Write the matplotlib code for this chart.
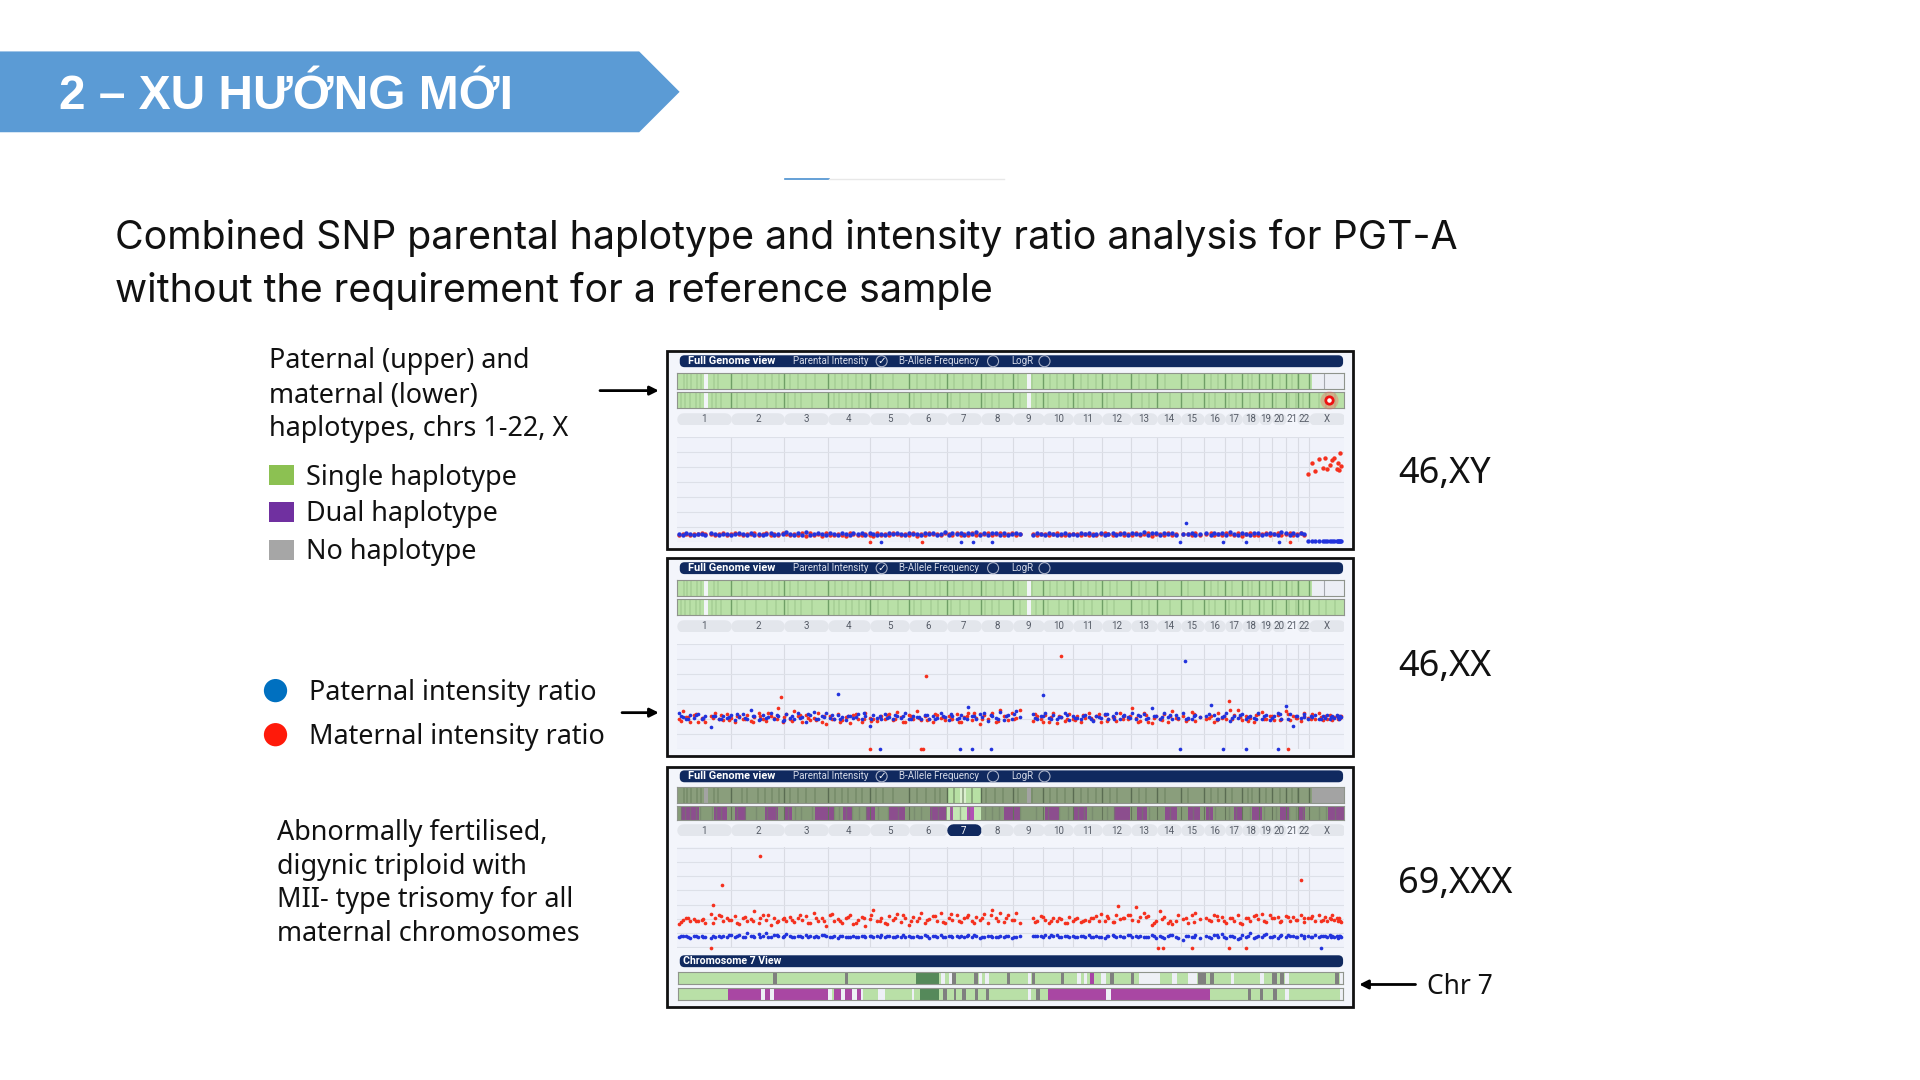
import matplotlib
matplotlib.use("Agg")
import matplotlib.pyplot as plt
from matplotlib.patches import Polygon, Rectangle, FancyBboxPatch, Circle

CHR_EDGES = [0,118,233,327,419,504,586,660,729,796,861,924,986,1042,1094,1144,1191,1228,1264,1293,1322,1350,1373,1450]
CHR_NAMES = ["1","2","3","4","5","6","7","8","9","10","11","12","13","14","15","16","17","18","19","20","21","22","X"]

# stripes inside the haplotype bars
STRIPES_UP = [14,22,31,44,52,79,88,140,151,176,190,207,221,246,262,281,299,343,358,371,388,401,431,447,470,521,540,560,572,601,622,641,672,690,707,741,772,811,825,842,878,893,909,940,955,1003,1019,1060,1110,1160,1175,1205,1240,1250,1280,1310,1335,1350]
STRIPES_LOW = [9,18,27,40,50,75,84,96,130,147,171,196,214,240,255,270,292,340,352,366,380,395,410,436,458,480,515,530,551,566,596,615,635,668,684,700,745,780,805,830,850,871,885,901,935,950,1010,1025,1070,1120,1155,1168,1200,1215,1245,1275,1301,1330,1345,1360,1395,1410,1430]
# purple blocks of the triploid lower bar
TRIP_PURPLE = [(8,48),(80,108),(125,150),(190,220),(235,250),(300,340),(360,380),(410,430),(460,495),(550,585),(710,745),(800,830),(860,890),(950,985),(1000,1020),(1060,1085),(1110,1135),(1150,1165),(1210,1230),(1250,1270),(1310,1330),(1350,1365),(1415,1450)]
TRIP_MAGENTA = [(592,600),(630,645)]

# chromosome 7 view, upper and lower bar
C7_UP_GRAY = [(247,255),(402,409),(683,691),(755,762),(809,817),(872,880),(980,988),(1025,1032),(1170,1188),(1197,1205),(1332,1342),(1350,1359),(1468,1477),(636,645)]
C7_UP_WHITE = [(612,620),(628,636),(695,701),(708,717),(800,807),(908,917),(922,930),(960,970),(1043,1088),(1115,1125),(1150,1168),(1242,1250),(1305,1314),(1360,1368),(1480,1487)]
C7_UP_DARK = [(557,608)]
C7_UP_PURPLE = [(935,944)]
C7_LOW_GRAY = [(617,625),(640,645),(657,665),(685,692),(710,717),(818,827),(1280,1287),(1305,1313),(1333,1342)]
C7_LOW_WHITE = [(220,228),(240,248),(365,375),(393,402),(417,428),(437,441),(474,490),(548,553),(800,808),(970,981),(1360,1368),(1480,1487)]
C7_LOW_DARK = [(565,608)]
C7_LOW_PURPLE = [(148,220),(228,240),(248,365),(378,393),(402,417),(428,437),(845,970),(981,1197)]

POS = [4,12,20,29,37,45,53,60,74,82,
       91,100,108,117,125,134,143,151,160,168,
       177,186,194,203,211,220,229,237,246,254,
       263,272,280,289,297,306,315,323,332,340,
       349,358,366,375,383,392,401,409,418,426,
       435,444,452,461,469,478,487,495,504,512,
       521,530,538,547,555,564,573,581,590,598,
       607,616,624,633,641,650,659,667,676,684,
       693,702,710,719,727,736,745,774,782,791,
       800,808,817,825,834,843,851,860,868,877,
       886,894,903,911,920,929,937,946,954,963,
       972,980,989,997,1006,1015,1023,1032,1040,1049,
       1058,1066,1075,1083,1100,1109,1118,1126,1135,1150,
       1159,1167,1176,1184,1193,1202,1210,1219,1227,1236,
       1245,1253,1262,1270,1279,1288,1296,1305,1313,1322,
       1331,1339,1347,1355,1363,1371,1379,1387,1395,1403,
       1408,1413,1418,1423,1428,1433,1436,1438,1441,1443]
POS2 = [8,24,41,57,78,95,112,129,147,164,
        181,198,216,233,250,267,285,302,319,336,
        354,371,388,405,422,440,457,474,491,508,
        526,543,560,577,595,612,629,646,663,681,
        698,715,732,778,795,812,830,847,864,881,
        899,916,933,950,968,985,1002,1019,1036,1054,
        1071,1088,1105,1122,1155,1172,1189,1206,1224,1241,
        1258,1275,1292,1310,1327,1344,1361,1378,1398,1420]

# 46,XY
XY_RED = [.52,.58,.55,.50,.56,.53,.60,.54,.56,.51,
          .55,.60,.52,.57,.64,.54,.50,.58,.53,.62,
          .49,.56,.60,.52,.57,.50,.63,.55,.47,.58,
          .52,.66,.44,.60,.50,.56,.46,.62,.52,.48,
          .58,.51,.44,.60,.54,.50,.47,.58,.52,.46,
          .60,.50,.55,.49,.62,.53,.48,.57,.52,.60,
          .46,.56,.50,.62,.54,.58,.49,.60,.53,.47,
          .64,.52,.56,.50,.60,.48,.57,.53,.62,.50,
          .55,.66,.49,.58,.60,.50,.54,.56,.51,.58,
          .54,.50,.57,.60,.52,.49,.56,.53,.59,.50,
          .55,.52,.58,.50,.56,.60,.53,.48,.57,.62,
          .52,.58,.50,.64,.48,.56,.60,.46,.54,.58,
          .50,.62,.52,.56,.54,.58,.52,.60,.50,.56,
          .62,.50,.58,.48,.64,.54,.50,.60,.46,.56,
          .62,.52,.50,.58,.66,.48,.56,.60,.50,.54,
          .62,.48,.56,.60,.52,4.55,5.25,4.75,5.55,4.95,
          5.60,4.90,5.15,5.45,5.60,4.85,5.30,4.80,5.95,5.10]
XY_BLUE = [.56,.52,.60,.56,.50,.58,.54,.50,.60,.55,
           .50,.56,.58,.50,.54,.60,.56,.50,.62,.50,
           .58,.52,.56,.62,.50,.58,.54,.68,.56,.52,
           .60,.50,.70,.52,.58,.62,.54,.50,.66,.56,
           .52,.62,.58,.50,.64,.56,.60,.50,.62,.56,
           .52,.58,.50,.62,.54,.60,.56,.50,.64,.54,
           .58,.50,.66,.54,.60,.50,.58,.68,.50,.60,
           .56,.66,.50,.62,.54,.70,.52,.60,.50,.66,
           .62,.52,.60,.50,.56,.64,.58,.52,.60,.54,
           .50,.60,.54,.50,.58,.62,.52,.58,.50,.60,
           .56,.60,.50,.58,.62,.52,.56,.64,.50,.56,
           .60,.52,.62,.54,.58,.68,.52,.60,.66,.50,
           .60,.54,.66,.50,.58,.54,.60,.52,.56,.62,
           .52,.60,.54,.66,.50,.70,.58,.52,.64,.54,
           .50,.62,.66,.50,.58,.62,.54,.52,.68,.60,
           .52,.60,.50,.66,.58,.10,.10,.10,.10,.10,
           .10,.10,.10,.10,.10,.10,.10,.10,.10,.10]
XY_OUT_X = [419,532,1331,442,617,642,684,1093,1187,1236,1307,1105]
XY_OUT_Y = [.05,.05,.05,.05,.05,.05,.05,.05,.05,.05,.05,1.30]
XY_OUT_RED = [1,1,1,0,0,0,0,0,0,0,0,0]

# 46,XX
XX_RED = [2.00,2.55,2.15,1.80,2.30,1.85,2.10,1.80,2.20,2.45,
          2.05,1.95,2.35,2.10,1.85,2.25,2.00,2.30,1.90,2.15,
          2.40,2.05,1.90,2.25,2.10,2.75,1.85,2.35,2.00,2.55,
          2.20,1.80,2.30,1.95,2.10,2.40,1.85,1.70,2.25,2.05,
          2.35,1.95,2.15,1.75,2.30,2.05,1.85,2.45,2.10,2.00,
          1.90,2.25,2.05,2.35,1.95,2.50,2.15,1.85,2.30,2.05,
          2.55,1.95,2.20,2.00,1.85,2.30,2.10,1.95,2.25,2.05,
          2.35,1.80,2.15,2.45,1.95,2.10,1.70,2.30,2.05,2.40,
          1.85,2.60,2.25,1.95,2.45,2.10,2.65,1.90,2.20,2.00,
          2.30,1.85,2.45,1.75,2.15,1.90,2.35,2.05,2.25,1.85,
          2.10,2.40,1.95,2.20,1.80,2.30,2.05,2.15,1.90,2.45,
          2.25,2.00,2.75,2.10,1.90,2.40,1.85,1.75,2.20,2.00,
          2.35,1.80,2.55,2.10,2.25,2.05,2.50,1.90,2.15,2.00,
          2.25,1.85,2.40,2.10,2.00,2.65,2.30,2.60,1.95,2.25,
          2.10,1.85,2.35,2.50,2.00,2.20,1.95,2.30,2.05,2.55,
          1.95,2.25,2.10,1.90,2.40,2.10,2.35,2.05,2.45,1.95,
          2.25,2.05,2.30,1.95,2.15,2.25,2.00,2.20,2.10,2.25]
XX_BLUE = [2.40,2.15,2.00,2.30,2.10,2.35,2.05,2.25,1.50,2.20,
           2.05,2.25,2.10,2.30,1.95,2.15,2.35,2.05,2.60,2.20,
           1.95,2.30,2.10,2.45,2.00,2.20,1.90,2.35,2.10,2.05,
           2.45,2.15,1.85,2.30,2.50,2.05,2.20,2.45,2.10,2.00,
           2.30,2.15,1.95,2.25,2.10,2.35,2.00,2.20,1.55,2.30,
           2.10,2.05,2.35,2.15,2.00,2.25,2.10,2.40,2.05,2.20,
           2.15,2.05,2.30,2.00,2.25,2.10,2.45,2.15,1.95,2.25,
           2.05,2.30,2.10,2.85,2.20,2.00,2.35,2.45,1.90,2.25,
           2.10,2.50,1.95,2.30,2.05,2.55,2.15,2.35,2.05,2.20,
           2.45,2.10,2.30,2.00,2.15,2.40,1.95,2.25,2.10,2.05,
           2.30,2.15,1.90,2.25,2.10,2.35,2.00,2.20,2.45,2.05,
           2.30,2.15,2.40,2.05,2.20,2.35,2.10,2.75,2.25,2.05,
           2.40,2.15,2.00,2.30,2.45,2.10,2.00,2.30,2.15,2.20,
           2.95,2.30,2.05,2.15,2.40,1.90,2.25,2.10,2.35,2.00,
           2.25,2.10,2.45,2.00,2.30,1.95,2.20,2.40,2.05,2.90,
           2.35,1.55,2.20,2.10,2.35,2.05,2.15,2.30,2.00,2.25,
           2.10,2.30,2.05,2.20,2.10,2.30,2.15,2.00,2.25,2.15]
XX_RED2 = [1.90,2.15,2.35,2.00,2.10,2.30,1.95,2.20,2.05,1.85,
           2.25,2.40,2.00,2.15,1.90,2.30,2.10,1.95,2.25,2.05,
           1.85,2.20,2.35,2.05,1.90,2.15,2.30,2.00,1.80,2.25,
           2.10,1.95,2.35,2.15,2.05,1.85,2.25,2.40,2.00,2.30,
           1.90,2.20,2.05,2.35,1.85,2.15,2.25,2.00,1.95,2.30,
           2.10,2.35,1.90,2.15,2.05,2.25,1.85,2.30,2.10,1.95,
           2.20,2.05,1.90,2.35,2.10,1.95,2.25,2.05,2.15,1.90,
           2.30,2.05,2.20,1.95,2.35,2.10,2.25,2.00,2.15,2.05]
XX_BLUE2 = [2.20,2.05,2.30,2.10,2.25,2.00,2.15,2.35,2.10,2.25,
            2.05,2.15,2.30,1.95,2.20,2.10,2.35,2.00,2.15,2.30,
            2.05,2.25,2.15,2.40,2.00,2.20,2.10,2.30,2.25,2.00,
            2.15,2.30,2.05,2.20,2.35,2.10,2.00,2.25,2.15,2.30,
            2.05,2.20,2.35,2.10,2.25,2.00,2.15,2.30,2.10,2.25,
            2.05,2.15,2.35,2.00,2.20,2.10,2.30,2.05,2.25,2.15,
            2.30,2.10,2.00,2.20,2.35,2.05,2.25,2.10,2.30,2.15,
            2.00,2.25,2.10,2.35,2.05,2.20,2.15,2.25,2.05,2.15]
XX_OUT_X = [835,540,225,1198,418,530,534,1328,1103,350,795,441,615,641,683,1092,1186,1235,1306]
XX_OUT_Y = [6.2,4.9,3.45,3.2,.02,.02,.02,.02,5.9,3.7,3.6,.02,.02,.02,.02,.02,.02,.02,.02]
XX_OUT_RED = [1,1,1,1,1,1,1,1,0,0,0,0,0,0,0,0,0,0,0]

# 69,XXX
XXX_RED = [1.65,1.95,2.05,1.90,2.00,1.85,1.95,1.70,2.35,2.10,
           2.25,1.85,2.10,1.95,2.20,1.65,2.05,1.85,2.00,2.55,
           1.75,2.30,1.95,1.60,2.10,1.85,2.00,1.90,2.15,1.80,
           2.05,1.95,2.20,1.70,2.45,1.90,2.10,1.55,2.25,1.85,
           2.00,1.70,2.10,2.30,1.65,1.95,2.15,1.50,2.00,2.65,
           1.85,2.10,1.75,2.20,1.95,2.35,1.80,2.05,1.60,2.15,
           1.90,2.45,1.75,2.00,2.20,1.85,2.40,1.70,2.10,1.95,
           2.25,1.80,2.05,2.30,1.85,2.15,1.95,2.35,1.75,2.60,
           2.05,2.45,1.80,2.25,1.95,2.40,1.70,2.10,1.85,2.20,
           1.95,1.70,2.10,1.85,2.00,1.75,2.15,1.90,2.05,1.80,
           1.95,1.85,2.05,2.20,2.35,1.90,2.05,1.80,2.30,2.00,
           2.10,2.25,1.95,2.85,2.15,2.40,2.20,1.60,1.85,2.55,
           2.15,1.75,1.65,1.85,2.00,1.70,2.25,2.45,2.00,2.10,
           1.85,2.25,1.95,2.15,1.75,2.05,1.90,2.25,1.65,2.10,
           1.85,2.20,2.00,2.35,1.80,2.25,2.05,2.15,1.90,2.20,
           1.85,2.15,1.95,2.25,1.80,2.05,2.20,1.90,2.30,1.95,
           2.15,1.85,2.05,2.25,1.95,2.10,1.90,2.05,1.85,1.80]
XXX_BLUE = [.75,.85,.80,.70,.85,.75,.80,.72,.70,.78,
            .85,.80,.72,.88,.75,.90,.78,1.05,.82,.72,
            .95,.80,1.05,.75,.90,.80,.72,.95,.82,.78,
            .85,.75,.90,.80,.78,.72,.88,.82,.75,.80,
            .70,.85,.78,.72,.82,.76,.80,.75,.85,.72,
            .80,.90,.75,.82,.72,.85,.78,.76,.85,.72,
            .80,.75,.88,.70,.85,.78,.90,.72,.82,.76,
            .85,.80,.72,.88,.76,.80,.70,.78,.85,.72,
            .76,.82,.72,.80,.70,.78,.85,.80,.82,.85,
            .88,.72,.80,.90,.76,.85,.72,.82,.78,.85,
            .75,.88,.72,.82,.78,.70,.85,.92,.72,.80,
            .76,.90,.72,.80,.85,.72,.78,.88,.70,.85,
            .65,.80,.90,.72,.55,.85,.72,.92,.65,.85,
            .70,.88,.75,.95,.68,.85,.72,.60,.90,.78,
            1.05,.70,.85,.72,.95,.78,.82,.65,.88,.76,
            .80,.85,.72,.88,.70,.82,.78,.90,.72,.80,
            .85,.72,.88,.80,.76,.85,.70,.80,.85,.78]
XXX_RED2 = [1.80,2.10,1.90,2.00,1.75,2.20,1.95,1.70,2.15,1.85,
            2.05,2.30,1.80,2.10,1.95,2.25,1.70,2.05,1.90,2.35,
            1.85,2.15,1.75,2.05,2.25,1.90,1.65,2.10,2.30,1.85,
            2.05,1.95,2.20,1.80,2.35,1.90,2.15,1.70,2.05,2.25,
            1.85,2.10,1.95,1.80,2.15,1.90,2.05,1.75,2.00,1.85,
            2.10,1.90,2.20,1.80,2.05,2.30,1.85,2.15,1.75,2.00,
            1.90,2.25,2.05,1.80,1.95,2.20,1.85,2.10,1.75,2.05,
            2.25,1.90,2.10,1.80,2.15,1.95,2.05,2.10,1.85,2.00]
XXX_BLUE2 = [.80,.72,.85,.78,.82,.75,.88,.80,.74,.85,
             .78,.72,.88,.80,.76,.84,.72,.80,.86,.75,
             .82,.78,.72,.85,.80,.76,.82,.72,.86,.78,
             .74,.84,.80,.72,.85,.76,.80,.88,.74,.82,
             .76,.85,.72,.82,.76,.86,.74,.80,.72,.84,
             .78,.72,.85,.80,.74,.88,.78,.72,.82,.76,
             .88,.70,.85,.78,.72,.88,.76,.84,.70,.82,
             .78,.86,.72,.80,.88,.74,.82,.78,.85,.76]
XXX_OUT_X = [180,98,1356,77,957,73,1045,1055,1118,1200,1237,1400]
XXX_OUT_Y = [6.4,4.4,4.7,3.0,2.9,0,0,0,0,0,0,0]
XXX_OUT_RED = [1,1,1,1,1,1,1,1,1,1,1,0]

LIGHT_GREEN = "#B9E0A7"
RED = "#F5301E"
BLUE = "#2233DD"
NAVY = "#10295F"
W, H = 1568.0, 882.0
SANS = "Noto Sans"

fig = plt.figure(figsize=(19.2, 10.8), dpi=100, facecolor="white")
base = fig.add_axes([0, 0, 1, 1])
base.set_xlim(0, W)
base.set_ylim(H, 0)
base.axis("off")


def sub_axes(x0, y0, x1, y1):
    ax = fig.add_axes([x0 / W, 1 - y1 / H, (x1 - x0) / W, (y1 - y0) / H])
    ax.set_xticks([])
    ax.set_yticks([])
    return ax


def hap_bar(x0, y0, x1, y1, color, xlim=(0, 1450)):
    ax = sub_axes(x0, y0, x1, y1)
    ax.set_facecolor(color)
    ax.set_xlim(*xlim)
    ax.set_ylim(0, 1)
    for s in ax.spines.values():
        s.set_color("#8F948C")
        s.set_linewidth(0.8)
    return ax


def spans(ax, items, color):
    for a, b in items:
        ax.axvspan(a, b, color=color, lw=0)


def draw_header(y0):
    base.add_patch(FancyBboxPatch((556, y0 + 1), 540, 8, boxstyle="round,pad=0,rounding_size=3",
                                  fc=NAVY, ec=NAVY, lw=1.5))
    ym = y0 + 5
    base.text(562, ym, "Full Genome view", color="white", fontsize=7.9, fontweight="bold", va="center", family="Roboto")
    base.text(648, ym, "Parental Intensity", color="#D5DAE8", fontsize=7, va="center", family="Roboto")
    base.text(734, ym, "B-Allele Frequency", color="#D5DAE8", fontsize=7, va="center", family="Roboto")
    base.text(826, ym, "LogR", color="#D5DAE8", fontsize=7, va="center", family="Roboto")
    for cx in (720, 811, 853):
        base.add_patch(Circle((cx, ym), 4.5, fc=NAVY, ec="#AAB2C8", lw=0.8))
    base.text(720, ym, "✓", color="white", fontsize=7.5, fontweight="bold", ha="center", va="center", family="DejaVu Sans")


def draw_pills(y0, y1, selected=None):
    ax = sub_axes(553, y0, 1098, y1)
    ax.set_xlim(0, 1450)
    ax.set_ylim(0, 1)
    ax.axis("off")
    for i, name in enumerate(CHR_NAMES):
        a, b = CHR_EDGES[i], CHR_EDGES[i + 1]
        on = name == selected
        ln = ax.hlines(0.5, a + 13, b - 13, color=NAVY if on else "#E3E6EC", lw=9)
        ln.set_capstyle("round")
        ax.text((a + b) / 2, 0.46, name, ha="center", va="center", fontsize=7,
                color="white" if on else "#555B66", family="Roboto")


def draw_plot(y0, y1, red, blue, ox, oy, ored, size=7):
    ax = sub_axes(553, y0, 1098, y1)
    ax.set_facecolor("#F0F2FA")
    ax.set_xlim(0, 1450)
    ax.set_ylim(0, 7)
    for s in ax.spines.values():
        s.set_visible(False)
    for v in CHR_EDGES[1:-1]:
        ax.axvline(v, color="#D9DBE3", lw=0.8)
    for v in range(1, 7):
        ax.axhline(v, color="#DDE0E8", lw=0.8)
    ax.axhline(0.02, color="#DDE0E8", lw=0.8)
    ax.axhline(6.98, color="#DDE0E8", lw=0.8)
    ax.scatter(POS, red, s=size, color=RED, lw=0, clip_on=False, zorder=3)
    ax.scatter(POS, blue, s=size, color=BLUE, lw=0, clip_on=False, zorder=4)
    for x, y, r in zip(ox, oy, ored):
        ax.scatter([x], [y], s=7, color=RED if r else BLUE, lw=0, clip_on=False, zorder=4)
    return ax


# banner
base.add_patch(Polygon([(0, 42), (522, 42), (555, 75), (522, 108), (0, 108)], closed=True, fc="#5B9BD5", ec="none"))
base.text(48, 79, "2 – XU HƯỚNG MỚI", color="white", fontsize=34.5, fontweight="bold", va="center",
          family="Liberation Sans")
base.plot([641, 677], [146, 146], color="#4A90D0", lw=1.2)
base.plot([677, 820], [146, 146], color="#E8E8E8", lw=1.0)

base.text(94, 194, "Combined SNP parental haplotype and intensity ratio analysis for PGT-A", fontsize=28.3,
          va="center", family="Inter", color="#111111")
base.text(94, 238, "without the requirement for a reference sample", fontsize=28.3,
          va="center", family="Inter", color="#111111")

# left notes
for y, s in zip((295, 323, 350), ("Paternal (upper) and", "maternal (lower)", "haplotypes, chrs 1-22, X")):
    base.text(220, y, s, fontsize=19.4, va="center", family=SANS, color="#111111")
for y, s, c in zip((388, 418, 449), ("Single haplotype", "Dual haplotype", "No haplotype"),
                   ("#8CC152", "#7030A0", "#A6A6A6")):
    base.add_patch(Rectangle((220, y - 8), 20, 16, fc=c, ec="none"))
    base.text(250, y + 2, s, fontsize=19.4, va="center", family=SANS, color="#111111")
for y, s, c in zip((564, 600), ("Paternal intensity ratio", "Maternal intensity ratio"), ("#0070C0", "#FF1A0A")):
    base.add_patch(Circle((225, y), 9.5, fc=c, ec="none"))
    base.text(252, y + 2, s, fontsize=19.4, va="center", family=SANS, color="#111111")
for y, s in zip((680, 708, 735, 763), ("Abnormally fertilised,", "digynic triploid with",
                                       "MII- type trisomy for all", "maternal chromosomes")):
    base.text(226, y, s, fontsize=19.4, va="center", family=SANS, color="#111111")

for y, s in zip((387, 545, 722), ("46,XY", "46,XX", "69,XXX")):
    base.text(1142, y, s, fontsize=26, va="center", family=SANS, color="#111111")
base.text(1165, 806, "Chr 7", fontsize=19, va="center", family=SANS, color="#111111")

for x0, x1, y in ((490, 538, 319), (508, 538, 582), (1156, 1110, 804)):
    base.annotate("", xy=(x1, y), xytext=(x0, y),
                  arrowprops=dict(arrowstyle="-|>", color="black", lw=2, mutation_scale=13, shrinkA=0, shrinkB=0))

# panel frames
for y0, y1 in ((287, 448), (456, 617), (626, 822)):
    base.add_patch(Rectangle((545, y0), 560, y1 - y0, fc="#F3F5FB", ec="#111111", lw=2))

# 46,XY and 46,XX
for y0, red, blue, ox, oy, ored, size in ((290, XY_RED, XY_BLUE, XY_OUT_X, XY_OUT_Y, XY_OUT_RED, 10),
                                          (459, XX_RED, XX_BLUE, XX_OUT_X, XX_OUT_Y, XX_OUT_RED, 7)):
    draw_header(y0)
    top = hap_bar(553, y0 + 15, 1098, y0 + 28, LIGHT_GREEN)
    low = hap_bar(553, y0 + 30, 1098, y0 + 43, LIGHT_GREEN)
    for ax, st in ((top, STRIPES_UP), (low, STRIPES_LOW)):
        ax.vlines(st, 0, 1, color="#9CC68C", lw=1.2, alpha=0.6)
        ax.vlines(CHR_EDGES[1:-1], 0, 1, color="#6F9F66", lw=1.0)
        ax.axvspan(58, 68, color="#F2F4F8", lw=0)
        ax.axvspan(760, 768, color="#F2F4F8", lw=0)
    top.axvspan(1380, 1450, color="#ECEEF5", lw=0)
    top.axvline(1405, color="#A5A8AE", lw=0.8)
    draw_pills(y0 + 47, y0 + 57)
    pl = draw_plot(y0 + 67, y0 + 153, red, blue, ox, oy, ored, size)
    if y0 == 459:
        pl.scatter(POS2, XX_RED2, s=7, color=RED, lw=0, zorder=3)
        pl.scatter(POS2, XX_BLUE2, s=7, color=BLUE, lw=0, zorder=4)

# red glow marker of the XY panel
glow = sub_axes(553, 320, 1098, 333)
glow.set_xlim(0, 1450)
glow.set_ylim(0, 1)
glow.axis("off")
glow.scatter([1417], [0.5], s=170, color="#F5605A", alpha=0.35, lw=0, clip_on=False)
glow.scatter([1417], [0.5], s=28, facecolor="white", edgecolor="#EE1111", lw=2, clip_on=False)

# 69,XXX
draw_header(629)
top = hap_bar(553, 643, 1098, 656, "#8A9E7C")
low = hap_bar(553, 658, 1098, 670, "#869C78")
top.vlines(STRIPES_UP, 0, 1, color="#6F8563", lw=1.2, alpha=0.7)
top.vlines(CHR_EDGES[1:-1], 0, 1, color="#5A6C52", lw=1.0)
top.axvspan(1380, 1450, color="#A3A3A3", lw=0)
top.axvspan(760, 768, color="#A3A3A3", lw=0)
top.axvspan(58, 68, color="#A3A3A3", lw=0)
top.axvspan(586, 660, color="#B7E0A4", lw=0)
top.axvspan(615, 628, color="#DCEFD0", lw=0)
spans(low, TRIP_PURPLE, "#8C4E8E")
low.vlines(STRIPES_LOW, 0, 1, color="#6F7F68", lw=1.0, alpha=0.55)
low.axvspan(586, 660, color="#C4E6B4", lw=0)
spans(low, TRIP_MAGENTA, "#B24FB5")
low.vlines(CHR_EDGES[1:6] + CHR_EDGES[8:-1], 0, 1, color="#63745A", lw=0.8)
draw_pills(673, 683, selected="7")
pl = draw_plot(692, 774, XXX_RED, XXX_BLUE, XXX_OUT_X, XXX_OUT_Y, XXX_OUT_RED)
pl.scatter(POS2, XXX_RED2, s=7, color=RED, lw=0, zorder=3)
pl.scatter(POS2, XXX_BLUE2, s=7, color=BLUE, lw=0, zorder=4)

base.add_patch(FancyBboxPatch((556, 781), 540, 8, boxstyle="round,pad=0,rounding_size=3", fc=NAVY, ec=NAVY, lw=1.5))
base.text(558, 785, "Chromosome 7 View", color="white", fontsize=7.6, fontweight="bold", va="center", family="Roboto")

c7_up = hap_bar(554, 794, 1097, 804, LIGHT_GREEN, xlim=(40, 1487))
spans(c7_up, C7_UP_DARK, "#55895A")
spans(c7_up, C7_UP_WHITE, "#EEF0F6")
spans(c7_up, C7_UP_GRAY, "#7F7F7F")
spans(c7_up, C7_UP_PURPLE, "#A742A5")
c7_low = hap_bar(554, 807, 1097, 817, LIGHT_GREEN, xlim=(40, 1487))
spans(c7_low, C7_LOW_PURPLE, "#A947A3")
spans(c7_low, C7_LOW_DARK, "#55895A")
spans(c7_low, C7_LOW_WHITE, "#EEF0F6")
spans(c7_low, C7_LOW_GRAY, "#7F7F7F")

fig.savefig("out.png", dpi=100)
